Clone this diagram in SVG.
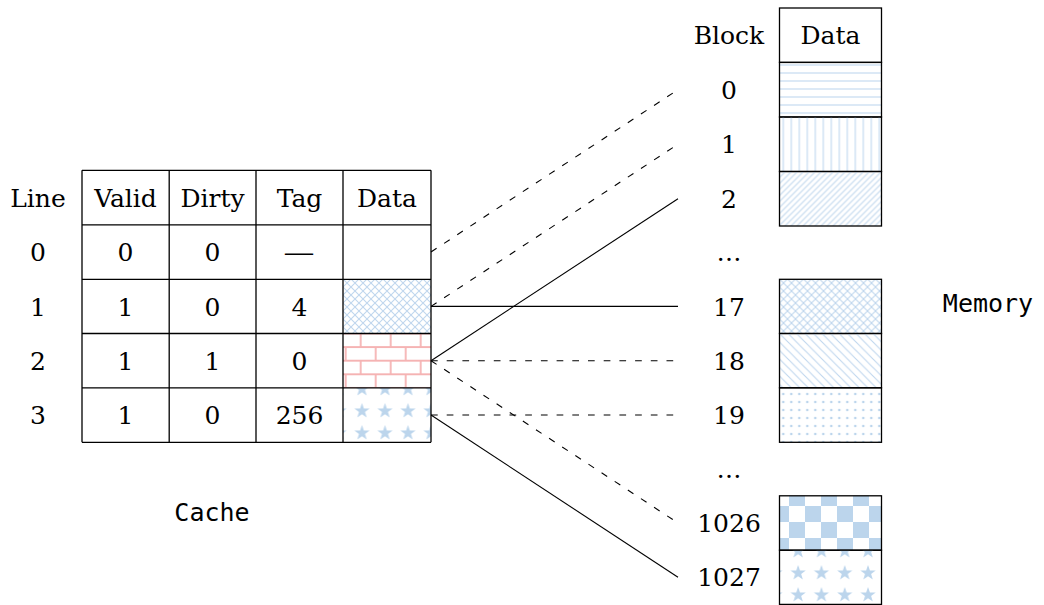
<svg xmlns="http://www.w3.org/2000/svg" width="1044" height="605" viewBox="0 0 1044 605">
  <defs>
    <style>
      .t { font-family: "DejaVu Serif", "Liberation Serif", serif; font-size: 25px; fill: #000; text-anchor: middle; }
      .m { font-family: "DejaVu Sans Mono", "Liberation Mono", monospace; font-size: 25px; fill: #000; text-anchor: middle; }
      .grid { stroke: #000; stroke-width: 1.3; fill: none; }
      .cell { stroke: #000; stroke-width: 1.3; }
      .solid { stroke: #000; stroke-width: 1.1; fill: none; }
      .dash { stroke: #000; stroke-width: 1.1; fill: none; stroke-dasharray: 6.7 9; }
      .pl { stroke: #bfd6ee; stroke-width: 1.1; fill: none; }
      .pf { fill: #bcd5ec; }
    </style>
    <path id="star" d="M0,-8 L1.88,-2.59 L7.61,-2.47 L3.04,0.99 L4.70,6.47 L0,3.2 L-4.70,6.47 L-3.04,0.99 L-7.61,-2.47 L-1.88,-2.59 Z"/>
    <!-- crosshatch (diagonal lattice) -->
    <pattern id="pCross" patternUnits="userSpaceOnUse" x="343" y="279" width="8" height="8">
      <path class="pl" d="M0,0 L8,8 M8,0 L0,8"/>
    </pattern>
    <pattern id="pCross2" patternUnits="userSpaceOnUse" x="779.5" y="279" width="8" height="8">
      <path class="pl" d="M0,0 L8,8 M8,0 L0,8"/>
    </pattern>
    <!-- bricks -->
    <pattern id="pBrick" patternUnits="userSpaceOnUse" x="345.7" y="333.5" width="30" height="27.2">
      <path d="M0,13.6 H30 M0,27.2 H30 M0,0 H30 M15,0 V13.6 M0,13.6 V27.2 M30,13.6 V27.2" stroke="#f5b3b3" stroke-width="1.8" fill="none"/>
    </pattern>
    <!-- five-pointed stars -->
    <pattern id="pStarC" patternUnits="userSpaceOnUse" x="350.5" y="378" width="23" height="22">
      <use href="#star" class="pf" x="11.5" y="11"/>
    </pattern>
    <pattern id="pStarM" patternUnits="userSpaceOnUse" x="786.5" y="540" width="23.3" height="22">
      <use href="#star" class="pf" x="11.65" y="11"/>
    </pattern>
    <!-- horizontal lines -->
    <pattern id="pHor" patternUnits="userSpaceOnUse" x="779.5" y="61" width="8" height="8">
      <path class="pl" d="M0,4 H8"/>
    </pattern>
    <!-- vertical lines -->
    <pattern id="pVer" patternUnits="userSpaceOnUse" x="779.3" y="117" width="8" height="8">
      <path class="pl" d="M4,0 V8"/>
    </pattern>
    <!-- north east lines -->
    <pattern id="pNE" patternUnits="userSpaceOnUse" x="779.5" y="171.5" width="6" height="6">
      <path class="pl" d="M-1,7 L7,-1 M-1,1 L1,-1 M5,7 L7,5"/>
    </pattern>
    <!-- north west lines -->
    <pattern id="pNW" patternUnits="userSpaceOnUse" x="779.5" y="333.5" width="8.5" height="8.5">
      <path class="pl" d="M-1,-1 L9.5,9.5 M-1,7.5 L1,9.5 M7.5,-1 L9.5,1"/>
    </pattern>
    <!-- dots -->
    <pattern id="pDots" patternUnits="userSpaceOnUse" x="779.3" y="390" width="8" height="8">
      <circle class="pf" cx="4" cy="4" r="1.3"/>
    </pattern>
    <!-- checkerboard -->
    <pattern id="pCheck" patternUnits="userSpaceOnUse" x="789" y="490" width="32" height="32">
      <rect class="pf" x="0" y="0" width="16" height="16"/>
      <rect class="pf" x="16" y="16" width="16" height="16"/>
    </pattern>
  </defs>

  <rect width="1044" height="605" fill="#fff"/>

  <!-- cache table -->
  <g id="cache">
    <g id="cache-header">
      <text class="t" x="38" y="206.7">Line</text>
      <text class="t" x="125.5" y="206.7">Valid</text>
      <text class="t" x="212.5" y="206.7">Dirty</text>
      <text class="t" x="299.5" y="206.7">Tag</text>
      <text class="t" x="387" y="206.7">Data</text>
    </g>
    <g id="cache-line0">
      <text class="t" x="38" y="261.1">0</text>
      <text class="t" x="125.5" y="261.1">0</text>
      <text class="t" x="212.5" y="261.1">0</text>
      <text class="t" x="299" y="261.1" textLength="31" lengthAdjust="spacingAndGlyphs">—</text>
    </g>
    <g id="cache-line1">
      <rect x="343" y="279.3" width="88" height="54.2" fill="url(#pCross)"/>
      <text class="t" x="38" y="315.5">1</text>
      <text class="t" x="125.5" y="315.5">1</text>
      <text class="t" x="212.5" y="315.5">0</text>
      <text class="t" x="299.5" y="315.5">4</text>
    </g>
    <g id="cache-line2">
      <rect x="343" y="333.5" width="88" height="54.3" fill="url(#pBrick)"/>
      <text class="t" x="38" y="369.8">2</text>
      <text class="t" x="125.5" y="369.8">1</text>
      <text class="t" x="212.5" y="369.8">1</text>
      <text class="t" x="299.5" y="369.8">0</text>
    </g>
    <g id="cache-line3">
      <rect x="343" y="387.8" width="88" height="54.5" fill="url(#pStarC)"/>
      <text class="t" x="38" y="424.1">3</text>
      <text class="t" x="125.5" y="424.1">1</text>
      <text class="t" x="212.5" y="424.1">0</text>
      <text class="t" x="299.5" y="424.1">256</text>
    </g>
    <path class="grid" d="M82,170.3 H431 M82,224.9 H431 M82,279.3 H431 M82,333.5 H431 M82,387.8 H431 M82,442.3 H431 M82,170.3 V442.3 M169.2,170.3 V442.3 M256,170.3 V442.3 M343,170.3 V442.3 M431,170.3 V442.3"/>
    <text class="m" x="212" y="520.5">Cache</text>
  </g>

  <!-- memory table -->
  <g id="memory">
    <g id="memory-header">
      <text class="t" x="729" y="44.4">Block</text>
      <text class="t" x="830.5" y="44.4">Data</text>
      <rect class="cell" x="779.5" y="8" width="102" height="54.4" fill="none"/>
    </g>
    <g id="block0">
      <rect class="cell" x="779.5" y="62.4" width="102" height="54.6" fill="url(#pHor)"/>
      <text class="t" x="729" y="98.8">0</text>
    </g>
    <g id="block1">
      <rect class="cell" x="779.5" y="117" width="102" height="54.5" fill="url(#pVer)"/>
      <text class="t" x="729" y="153.3">1</text>
    </g>
    <g id="block2">
      <rect class="cell" x="779.5" y="171.5" width="102" height="54.5" fill="url(#pNE)"/>
      <text class="t" x="729" y="207.8">2</text>
    </g>
    <text class="t" x="729" y="261.4">…</text>
    <g id="block17">
      <rect class="cell" x="779.5" y="279.3" width="102" height="54.2" fill="url(#pCross2)"/>
      <text class="t" x="729" y="315.5">17</text>
    </g>
    <g id="block18">
      <rect class="cell" x="779.5" y="333.5" width="102" height="54.3" fill="url(#pNW)"/>
      <text class="t" x="729" y="369.8">18</text>
    </g>
    <g id="block19">
      <rect class="cell" x="779.5" y="387.8" width="102" height="54.5" fill="url(#pDots)"/>
      <text class="t" x="729" y="424.1">19</text>
    </g>
    <text class="t" x="729" y="477.9">…</text>
    <g id="block1026">
      <rect class="cell" x="779.5" y="495.8" width="102" height="54.4" fill="url(#pCheck)"/>
      <text class="t" x="729" y="532.1">1026</text>
    </g>
    <g id="block1027">
      <rect class="cell" x="779.5" y="550.2" width="102" height="54.2" fill="url(#pStarM)"/>
      <text class="t" x="729" y="586.4">1027</text>
    </g>
    <text class="m" x="988" y="311.5">Memory</text>
  </g>

  <!-- connectors between cache lines and memory blocks -->
  <g id="connectors">
    <line class="dash" x1="431" y1="252" x2="678" y2="89.7"/>
    <line class="dash" x1="431" y1="306.4" x2="678" y2="144.2"/>
    <line class="solid" x1="431" y1="306.4" x2="678" y2="306.4"/>
    <line class="solid" x1="431" y1="360.7" x2="678" y2="198.7"/>
    <line class="dash" x1="431" y1="360.7" x2="678" y2="360.7"/>
    <line class="dash" x1="431" y1="360.7" x2="678" y2="523"/>
    <line class="dash" x1="431" y1="415" x2="678" y2="415"/>
    <line class="solid" x1="431" y1="415" x2="678" y2="577.3"/>
  </g>
</svg>
